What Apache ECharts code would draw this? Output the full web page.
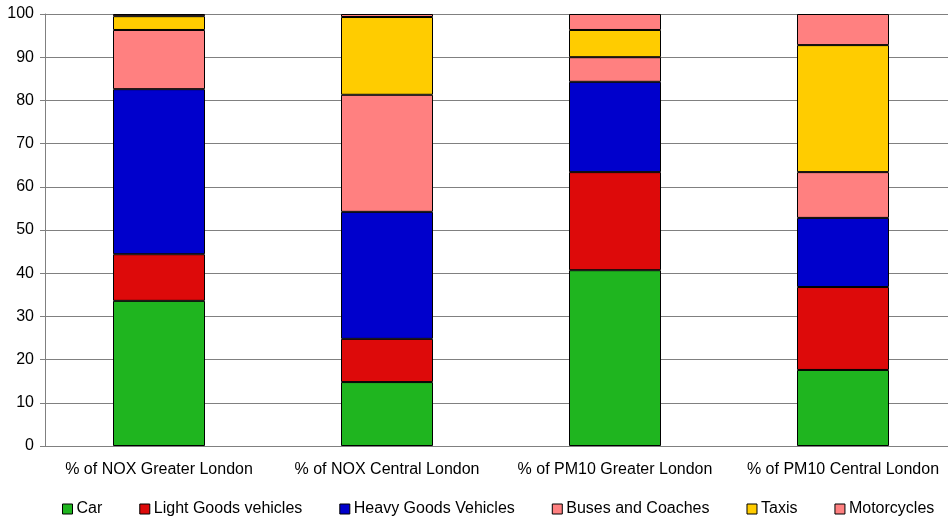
<!DOCTYPE html>
<html>
<head>
<meta charset="utf-8">
<script src="https://cdn.jsdelivr.net/npm/echarts@6/dist/echarts.min.js"></script>
<style>
html,body{margin:0;padding:0;background:#fff;overflow:hidden;width:948px;height:519px;}
#chart{width:960px;height:519px;}
</style>
</head>
<body>
<div id="chart"></div>
<script>
// Share of emissions by vehicle type (%)
const categories = ['% of NOX Greater London', '% of NOX Central London', '% of PM10 Greater London', '% of PM10 Central London'];
const car         = [33.6, 14.8, 40.7, 17.6];
const lightGoods  = [10.8, 10.0, 22.7, 19.2];
const heavyGoods  = [38.2, 29.4, 20.9, 16.0];
const buses       = [13.7, 27.1, 5.7, 10.6];
const taxis       = [3.2, 18.0, 6.3, 29.4];
const motorcycles = [0.5, 0.7, 3.7, 7.2];
const yTicks = [0, 10, 20, 30, 40, 50, 60, 70, 80, 90, 100];

const seriesDefs = [
  ['Car', car, '#1fb51f'],
  ['Light Goods vehicles', lightGoods, '#dd0a0a'],
  ['Heavy Goods Vehicles', heavyGoods, '#0000cc'],
  ['Buses and Coaches', buses, '#ff8080'],
  ['Taxis', taxis, '#ffcc00'],
  ['Motorcycles', motorcycles, '#ff8080']
];

const font = 'Liberation Sans, Arial, sans-serif';
const chart = echarts.init(document.getElementById('chart'));
chart.setOption({
  animation: false,
  grid: { left: 45, right: 3, top: 14, bottom: 73 },
  legend: {
    top: 496,
    left: 57,
    itemWidth: 10,
    itemHeight: 10,
    itemGap: 37,
    icon: 'rect',
    textStyle: { fontFamily: font, fontSize: 16, color: '#000', padding: [0, 0, 0, -1] },
    data: seriesDefs.map(s => ({ name: s[0], itemStyle: { borderColor: '#000', borderWidth: 1 } }))
  },
  xAxis: {
    type: 'category',
    data: categories,
    axisLine: { lineStyle: { color: '#808080' } },
    axisTick: { lineStyle: { color: '#808080' }, length: 5 },
    axisLabel: { fontFamily: font, fontSize: 16, color: '#000', margin: 16, interval: 0 }
  },
  yAxis: {
    type: 'value',
    min: yTicks[0],
    max: yTicks[yTicks.length - 1],
    interval: 10,
    axisLine: { show: true, lineStyle: { color: '#808080' } },
    axisTick: { show: true, inside: false, length: 5, lineStyle: { color: '#808080' } },
    splitLine: { lineStyle: { color: '#808080' } },
    axisLabel: { fontFamily: font, fontSize: 16, color: '#000', margin: 11 }
  },
  series: seriesDefs.map(s => ({
    name: s[0],
    type: 'bar',
    stack: 'total',
    data: s[1],
    barWidth: 92,
    itemStyle: { color: s[2], borderColor: '#000', borderWidth: 1 }
  }))
});
</script>
</body>
</html>
